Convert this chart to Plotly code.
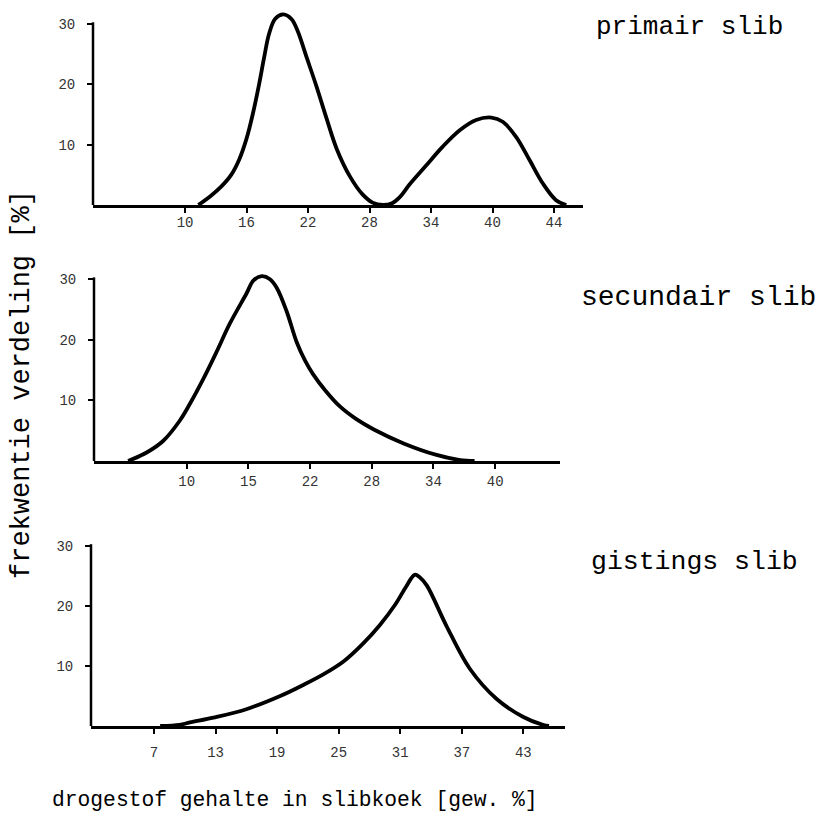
import plotly.graph_objects as go

W, H = 823, 825

# ---- data ----
primair_x = [11.3, 12.5, 13.5, 14.5, 15.3, 16.0, 16.6, 17.2, 17.7, 18.2, 18.8, 19.6, 20.4,
             21.0, 21.9, 22.8, 23.8, 24.8, 26.1, 27.3, 28.3, 29.3, 30.2, 31.0, 31.9, 33.5,
             35.1, 36.8, 38.4, 39.9, 41.0, 42.3, 43.6, 44.9, 46.2, 47.2]
primair_y = [0, 1.5, 3.0, 5.0, 7.6, 11.0, 15.0, 19.8, 24.3, 28.4, 30.9, 31.6, 30.8,
             28.8, 24.3, 19.8, 14.4, 9.3, 4.7, 1.8, 0.4, 0.0, 0.3, 1.4, 3.4, 6.5,
             9.6, 12.4, 14.1, 14.5, 13.8, 11.3, 7.5, 3.6, 0.8, 0]

secundair_x = [4.3, 6.1, 7.7, 9.3, 10.3, 11.6, 12.9, 14.2, 15.8, 16.5, 17.3, 18.1, 18.75,
               19.7, 20.7, 21.5, 22.3, 23.5, 24.9, 26.5, 28.2, 31.1, 34.3, 36.6, 38.0]
secundair_y = [0, 1.4, 3.3, 6.6, 9.4, 13.5, 18.0, 22.7, 27.6, 29.8, 30.5, 30.0, 28.6,
               24.8, 19.6, 16.6, 14.3, 11.6, 9.0, 6.9, 5.2, 2.9, 1.0, 0.15, 0]

gistings_x = [7.6, 9.5, 10.5, 12.8, 16.0, 19.3, 21.5, 23.5, 25.5, 27.3, 29.0, 30.5, 31.6,
              32.4, 32.9, 33.6, 35.5, 37.8, 40.4, 43.0, 44.9, 45.5]
gistings_y = [0, 0.2, 0.6, 1.4, 2.8, 5.0, 6.8, 8.6, 10.8, 13.6, 16.8, 20.2, 23.3,
              25.2, 24.8, 23.4, 16.7, 9.5, 4.5, 1.5, 0.2, 0]

top_tickvals = [10, 16, 22, 28, 34, 40, 46]
top_ticktext = ["10", "16", "22", "28", "34", "40", "44"]
mid_tickvals = [10, 16, 22, 28, 34, 40]
mid_ticktext = ["10", "15", "22", "28", "34", "40"]
bot_tickvals = [7, 13, 19, 25, 31, 37, 43]
bot_ticktext = ["7", "13", "19", "25", "31", "37", "43"]
y_tickvals = [10, 20, 30]
y_ticktext = ["10", "20", "30"]

titles = ["primair slib", "secundair slib", "gistings slib"]
y_title = "frekwentie verdeling [%]"
x_title = "drogestof gehalte in slibkoek [gew. %]"

FONT = "Liberation Mono"

panels = [
    dict(xl=93, xr=583, xr0=1.02, xr1=48.83, base=205, ppu=6.03, tv=top_tickvals, tt=top_ticktext,
         standoff=-3, x=primair_x, y=primair_y),
    dict(xl=94, xr=560, xr0=0.98, xr1=46.31, base=461, ppu=6.06, tv=mid_tickvals, tt=mid_ticktext,
         standoff=0, x=secundair_x, y=secundair_y),
    dict(xl=91, xr=565, xr0=0.86, xr1=47.06, base=726, ppu=6.0, tv=bot_tickvals, tt=bot_ticktext,
         standoff=6, x=gistings_x, y=gistings_y),
]
YMAX = 33

fig = go.Figure()
for i, p in enumerate(panels):
    n = "" if i == 0 else str(i + 1)
    top_py = p["base"] - YMAX * p["ppu"]
    fig.add_trace(go.Scatter(x=p["x"], y=p["y"], mode="lines",
                             line=dict(color="black", width=3.8, shape="spline", smoothing=1.0),
                             xaxis="x" + n, yaxis="y" + n, showlegend=False, hoverinfo="skip"))
    fig.layout["xaxis" + n] = dict(
        domain=[p["xl"] / W, p["xr"] / W], range=[p["xr0"], p["xr1"]], anchor="y" + n,
        showgrid=False, zeroline=False, showline=True, linecolor="black", linewidth=3,
        tickmode="array", tickvals=p["tv"], ticktext=p["tt"], ticks="outside", ticklen=5,
        tickwidth=1.5, tickcolor="black", ticklabelstandoff=p["standoff"],
        tickfont=dict(family=FONT, size=14, color="#333"))
    fig.layout["yaxis" + n] = dict(
        domain=[1 - p["base"] / H, 1 - top_py / H], range=[0, YMAX], anchor="x" + n,
        showgrid=False, zeroline=False, showline=False,
        tickmode="array", tickvals=y_tickvals, ticktext=y_ticktext, ticks="outside", ticklen=5,
        tickwidth=1.5, tickcolor="black", ticklabelstandoff=9,
        tickfont=dict(family=FONT, size=14, color="#333"))
    fig.add_shape(type="line", xref="x" + n + " domain", yref="y" + n, x0=0, x1=0, y0=0, y1=30.3,
                  line=dict(color="black", width=2.5))

title_pos = [(594, 27, 26), (579, 297, 28), (589, 562, 26.5)]
for t, (px, py, fs) in zip(titles, title_pos):
    fig.add_annotation(text=t, x=px / W, y=1 - py / H, xref="paper", yref="paper",
                       xanchor="left", yanchor="middle", showarrow=False,
                       font=dict(family=FONT, size=fs, color="black"))

fig.add_annotation(text=y_title, x=22 / W, y=1 - 385 / H, xref="paper", yref="paper",
                   xanchor="center", yanchor="middle", textangle=-90, showarrow=False,
                   font=dict(family=FONT, size=27, color="black"))
fig.add_annotation(text=x_title, x=50 / W, y=1 - 800 / H, xref="paper", yref="paper",
                   xanchor="left", yanchor="middle", showarrow=False,
                   font=dict(family=FONT, size=21.3, color="black"))

fig.update_layout(width=W, height=H, margin=dict(l=0, r=0, t=0, b=0),
                  paper_bgcolor="white", plot_bgcolor="white")

fig.write_html("out.html")
